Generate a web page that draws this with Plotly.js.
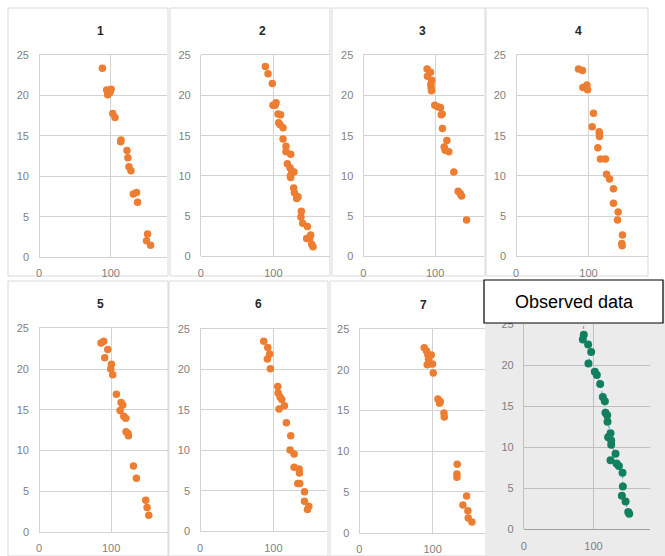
<!DOCTYPE html>
<html>
<head>
<meta charset="utf-8">
<script src="https://cdn.plot.ly/plotly-3.0.1.min.js"></script>
<style>html,body{margin:0;padding:0;background:#fff;}#chart{width:665px;height:556px;}</style>
</head>
<body>
<div id="chart"></div>
<script>
// ---- data ----
const panelTitles = ["1", "2", "3", "4", "5", "6", "7"];
const observedLabel = "Observed data";

const p1x = [88.4, 94.4, 100.5, 95.8, 99, 102.8, 106, 114.4, 113.9, 122.7, 124, 125.5, 128.2, 131.5, 136, 137.5, 151.4, 150, 155.6];
const p1y = [23.4, 20.7, 20.8, 20.1, 20.4, 17.8, 17.3, 14.5, 14.3, 13.2, 12.3, 11.2, 10.7, 7.8, 8.0, 6.8, 2.85, 2.0, 1.45];

const p2x = [89, 92.7, 98.6, 99.5, 103.7, 102.3, 106.4, 110, 107.3, 109, 113.3, 113.3, 117.4, 117.4, 123.9, 119.3, 122.9, 125.2, 128.4, 123.4, 123.9, 128, 129, 134, 132.1, 138.5, 138, 140.4, 146.8, 145.9, 151.4, 150, 152.8, 154.6];
const p2y = [23.6, 22.7, 21.5, 18.8, 19.1, 18.8, 17.7, 17.6, 16.6, 16.4, 16.0, 14.6, 13.7, 13.0, 12.7, 11.5, 11.0, 10.6, 10.5, 10.0, 9.8, 8.5, 7.9, 7.4, 7.2, 5.6, 4.9, 4.1, 3.7, 2.2, 2.65, 2.2, 1.5, 1.2];

const p3x = [88.8, 93.5, 89.3, 95.3, 94, 94.4, 94.9, 99.5, 103.3, 107.4, 109.8, 108.5, 110.2, 116.3, 112.6, 114, 119, 126, 132, 134.9, 136.7, 143.7];
const p3y = [23.3, 22.9, 22.4, 21.9, 21.4, 21.0, 20.6, 18.8, 18.6, 18.5, 17.7, 17.6, 15.9, 14.4, 13.6, 13.2, 13.0, 10.5, 8.1, 7.8, 7.5, 4.5];

const p4x = [86.2, 91.7, 92.2, 97.7, 95.9, 98.6, 106.9, 105, 114.7, 115.1, 115.1, 112.8, 116.5, 123.4, 124.8, 128.9, 134.4, 134.4, 140.8, 139.9, 146.8, 145.9, 146.3];
const p4y = [23.3, 23.1, 21.0, 21.3, 21.0, 20.7, 17.8, 16.1, 15.5, 15.2, 14.9, 13.5, 12.1, 12.1, 10.2, 9.6, 8.4, 6.6, 5.5, 4.5, 2.65, 1.6, 1.3];

const p5x = [86.1, 89.8, 95.4, 91.2, 100.5, 99.5, 102.3, 107.4, 113.9, 116.2, 112.5, 117.6, 120.4, 120.8, 123.6, 124.1, 131, 135.2, 148.1, 150, 152.3];
const p5y = [23.2, 23.4, 22.4, 21.4, 20.6, 20.0, 19.3, 16.9, 15.9, 15.6, 14.9, 14.2, 13.95, 12.3, 12.1, 11.8, 8.1, 6.6, 3.9, 3.0, 2.05];

const p6x = [86.8, 92.3, 95, 91.8, 95.9, 105.9, 106.4, 109.1, 111.4, 107.7, 115, 117.7, 123.6, 122.7, 128.2, 128.2, 135, 135.5, 133.2, 135.9, 142.3, 142.3, 148.2, 146.4];
const p6y = [23.5, 22.7, 21.9, 21.3, 20.1, 17.9, 17.1, 16.6, 16.3, 15.1, 15.5, 13.4, 11.8, 10.05, 9.55, 7.9, 7.7, 7.2, 5.9, 5.9, 4.9, 3.7, 3.1, 2.7];

const p7x = [88.6, 91.8, 93.6, 98.2, 94.5, 92.7, 100, 95.5, 100.9, 107.3, 110.5, 109.5, 115.5, 115.9, 133.6, 133.2, 133.2, 146.4, 141.4, 148.2, 148.6, 153.6];
const p7y = [22.7, 22.3, 21.8, 21.8, 21.3, 20.6, 20.7, 20.7, 19.6, 16.4, 16.1, 15.9, 14.7, 14.2, 8.4, 7.2, 6.8, 4.5, 3.4, 2.7, 1.8, 1.3];

const obsX = [85.5, 86.1, 84.7, 92.3, 96.7, 92.8, 101.9, 104.8, 109.6, 113.4, 116.3, 117.2, 119.6, 120.1, 124.4, 121, 125.4, 125.4, 131.6, 124.4, 133, 136.4, 141.6, 142.1, 140.7, 146, 149.8, 151.2];
const obsY = [25.5, 23.7, 23.1, 22.5, 21.6, 20.2, 19.2, 18.8, 17.7, 16.1, 15.6, 14.2, 13.9, 13.1, 11.7, 11.2, 10.8, 10.3, 9.2, 8.4, 8.0, 7.7, 6.9, 5.2, 4.1, 3.4, 2.1, 1.9];

const xTicks = [0, 100];
const yTicks = [0, 5, 10, 15, 20, 25];

// ---- layout geometry (pixels) ----
const W = 665, H = 556;
const panels = [
  {xs: p1x, ys: p1y, px: [39, 167],    py: [55.3, 257],   xmax: 178.5, title: [100, 31]},
  {xs: p2x, ys: p2y, px: [200.7, 330], py: [55.3, 256.3], xmax: 178,   title: [262, 31]},
  {xs: p3x, ys: p3y, px: [363.3, 484], py: [55.3, 256.3], xmax: 168,   title: [422, 31]},
  {xs: p4x, ys: p4y, px: [516, 648],   py: [55.3, 256.3], xmax: 182,   title: [578, 31]},
  {xs: p5x, ys: p5y, px: [39, 168],    py: [328.3, 532],  xmax: 179,   title: [100, 304]},
  {xs: p6x, ys: p6y, px: [200, 327],   py: [329, 531.3],  xmax: 173,   title: [258, 304]},
  {xs: p7x, ys: p7y, px: [359.3, 485], py: [329, 532.7],  xmax: 171.5, title: [423, 305]},
  {xs: obsX, ys: obsY, px: [523.7, 650], py: [324, 529.3], xmax: 181, title: null, observed: true}
];

const borders = [
  [8, 8, 168, 276], [170, 8, 330, 276], [332, 8, 485, 276], [486, 8, 648, 276],
  [8, 281, 168, 556], [169, 281, 328, 556], [330, 281, 486, 556]
];

const tickFont = {family: "Liberation Sans, Arial, sans-serif", size: 11, color: "#7f7f7f"};

const data = [];
const layout = {
  width: W, height: H,
  margin: {l: 0, r: 0, t: 0, b: 0},
  paper_bgcolor: "#ffffff",
  plot_bgcolor: "rgba(0,0,0,0)",
  showlegend: false,
  shapes: [],
  annotations: []
};

// panel backgrounds / borders
layout.shapes.push({type: "rect", xref: "paper", yref: "paper",
  x0: 487 / W, x1: 1, y0: 0, y1: 1 - 280 / H,
  fillcolor: "#ebebeb", line: {width: 0}, layer: "below"});
borders.forEach(b => {
  layout.shapes.push({type: "rect", xref: "paper", yref: "paper",
    x0: b[0] / W, x1: b[2] / W, y0: 1 - b[3] / H, y1: 1 - b[1] / H,
    fillcolor: "rgba(0,0,0,0)", line: {color: "#d9d9d9", width: 1}, layer: "below"});
});

panels.forEach((p, i) => {
  const n = i + 1;
  const xa = n === 1 ? "xaxis" : "xaxis" + n;
  const ya = n === 1 ? "yaxis" : "yaxis" + n;
  const xr = n === 1 ? "x" : "x" + n;
  const yr = n === 1 ? "y" : "y" + n;
  const gridc = p.observed ? "#c0c0c0" : "#d3d3d3";
  layout[xa] = {
    domain: [p.px[0] / W, p.px[1] / W],
    range: [0, p.xmax],
    tickmode: "array", tickvals: xTicks, ticktext: xTicks.map(String),
    showgrid: true, gridcolor: gridc, gridwidth: 1,
    zeroline: true, zerolinecolor: gridc, zerolinewidth: 1,
    showline: true, linecolor: p.observed ? "#a0a0a0" : gridc, linewidth: 1,
    mirror: p.observed ? false : true,
    ticks: "", tickfont: tickFont, ticklabelstandoff: 6,
    anchor: yr, fixedrange: true
  };
  layout[ya] = {
    domain: [1 - p.py[1] / H, 1 - p.py[0] / H],
    range: [0, 25],
    tickmode: "array", tickvals: yTicks, ticktext: yTicks.map(String),
    showgrid: true, gridcolor: gridc, gridwidth: 1,
    zeroline: false, showline: false,
    ticks: "", tickfont: tickFont, ticklabelstandoff: 9,
    anchor: xr, fixedrange: true
  };
  if (p.observed) {
    data.push({x: p.xs, y: p.ys, xaxis: xr, yaxis: yr, type: "scatter",
      mode: "lines+markers", cliponaxis: true,
      line: {color: "#6fa8dc", width: 1.2, dash: "dot"},
      marker: {color: "#12805f", size: 8}});
  } else {
    data.push({x: p.xs, y: p.ys, xaxis: xr, yaxis: yr, type: "scatter",
      mode: "markers", cliponaxis: true,
      marker: {color: "#ed7d31", size: 7.5}});
    layout.annotations.push({xref: "paper", yref: "paper",
      x: p.title[0] / W, y: 1 - p.title[1] / H, xanchor: "center", yanchor: "middle",
      text: "<b>" + panelTitles[i] + "</b>", showarrow: false,
      font: {family: "Liberation Sans, Arial, sans-serif", size: 12, color: "#262626"}});
  }
});

// Observed data label box
layout.shapes.push({type: "rect", xref: "paper", yref: "paper",
  x0: 484 / W, x1: 663 / W, y0: 1 - 323 / H, y1: 1 - 280 / H,
  fillcolor: "#ffffff", line: {color: "#000000", width: 1.2}, layer: "above"});
layout.annotations.push({xref: "paper", yref: "paper",
  x: 574 / W, y: 1 - 302 / H, xanchor: "center", yanchor: "middle",
  text: observedLabel, showarrow: false,
  font: {family: "Liberation Sans, Arial, sans-serif", size: 18, color: "#000000"}});

Plotly.newPlot("chart", data, layout, {staticPlot: true, displayModeBar: false});
</script>
</body>
</html>
